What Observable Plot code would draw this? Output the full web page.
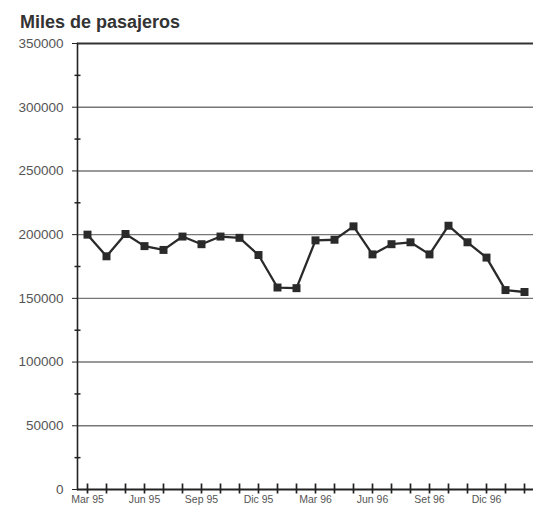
<!DOCTYPE html>
<html>
<head>
<meta charset="utf-8">
<script src="https://cdn.jsdelivr.net/npm/d3@7"></script>
<script src="https://cdn.jsdelivr.net/npm/@observablehq/plot@0.6"></script>
<style>
  html, body { margin: 0; padding: 0; background: #fff; }
  #wrap { width: 533px; height: 506px; overflow: hidden; }
  #title { height: 33px; box-sizing: border-box; padding-top: 12px; padding-left: 20px;
           line-height: 20px; font-size: 18px; font-weight: bold; color: #333;
           font-family: "Liberation Sans", Arial, sans-serif; }
</style>
</head>
<body>
<div id="wrap">
  <div id="title">Miles de pasajeros</div>
  <div id="chart"></div>
</div>
<script>
const months = ["Mar 95","Abr 95","May 95","Jun 95","Jul 95","Ago 95","Sep 95","Oct 95","Nov 95","Dic 95","Ene 96","Feb 96",
                "Mar 96","Abr 96","May 96","Jun 96","Jul 96","Ago 96","Set 96","Oct 96","Nov 96","Dic 96","Ene 97","Feb 97"];
const pasajeros = [200000, 183000, 200500, 191000, 188000, 198500, 192500, 198500, 197500, 184000, 158500, 158000,
                   195500, 196000, 206500, 184500, 192500, 194000, 184500, 207000, 194000, 182000, 156500, 155000];
const xTickLabels = ["Mar 95","Jun 95","Sep 95","Dic 95","Mar 96","Jun 96","Set 96","Dic 96"];
const yTicks = [0, 50000, 100000, 150000, 200000, 250000, 300000, 350000];
const yMinorTicks = [25000, 75000, 125000, 175000, 225000, 275000, 325000];

const data = months.map((m, i) => ({mes: m, valor: pasajeros[i]}));

const vdash = { draw(ctx) { ctx.moveTo(0, -6); ctx.lineTo(0, 4); } };
const hdash = { draw(ctx) { ctx.moveTo(-3, 0); ctx.lineTo(3, 0); } };

const chart = Plot.plot({
  width: 533,
  height: 473,
  marginTop: 10,
  marginBottom: 17,
  marginLeft: 77,
  marginRight: 0,
  style: { fontFamily: "'Liberation Sans', Arial, sans-serif", color: "#555", background: "#fff" },
  x: { type: "point", domain: months, padding: 0.5 },
  y: { domain: [0, 350000] },
  marks: [
    Plot.ruleY(yTicks.filter(v => v > 0 && v < 350000), { stroke: "#777", strokeWidth: 1.4 }),
    Plot.ruleY([350000], { stroke: "#333", strokeWidth: 2 }),
    Plot.ruleY([0], { stroke: "#222", strokeWidth: 1.8 }),
    Plot.frame({ anchor: "left", stroke: "#222", strokeWidth: 1.6 }),
    Plot.axisY({ ticks: yTicks, tickSize: 5, tickPadding: 9, label: null, fontSize: 13.5,
                 tickFormat: d => String(d), stroke: "#222", fill: "#555" }),
    Plot.dot(yMinorTicks, { y: d => d, frameAnchor: "left", symbol: hdash, stroke: "#222", strokeWidth: 1.5, fill: "none" }),
    Plot.axisX({ ticks: months, tickSize: 0, tickPadding: 6, label: null, fontSize: 10.5, fill: "#555",
                 tickFormat: d => xTickLabels.includes(d) ? d : "" }),
    Plot.dot(months, { x: d => d, y: () => 0, symbol: vdash, stroke: "#222", strokeWidth: 1.7, fill: "none" }),
    Plot.line(data, { x: "mes", y: "valor", stroke: "#2a2a2a", strokeWidth: 2.3 }),
    Plot.dot(data, { x: "mes", y: "valor", symbol: "square", r: 4.5, fill: "#2a2a2a", stroke: "none" })
  ]
});
document.getElementById("chart").appendChild(chart);
</script>
</body>
</html>
